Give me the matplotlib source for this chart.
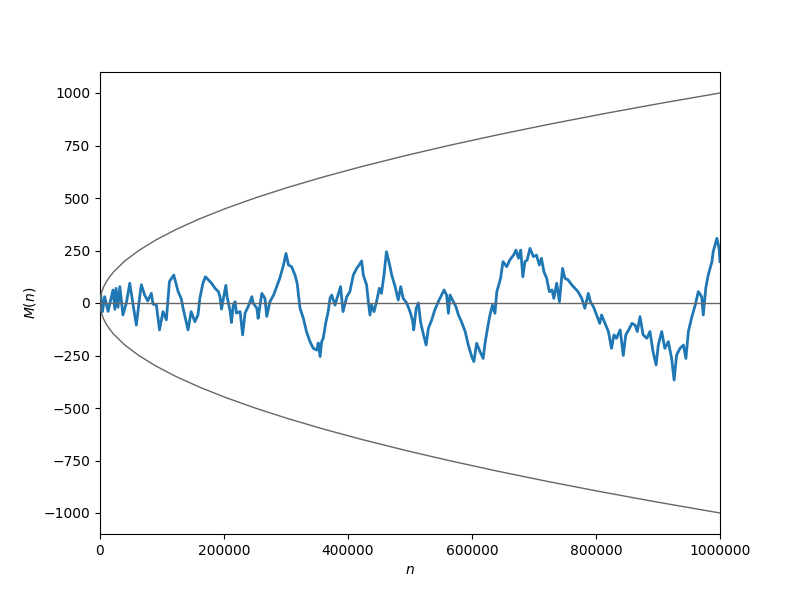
import matplotlib
matplotlib.use("Agg")
import matplotlib.pyplot as plt

# Mertens function M(n) (n in thousands)
n_k = [0, 1, 4, 7.5, 13, 21, 24, 26, 29, 32, 37, 42.5, 48, 50.5, 54, 58.6, 64, 66.7, 72, 77,
       82.8, 85.5, 91, 96, 101.6, 107, 112, 119, 126, 131, 134, 142, 147, 153, 158, 161, 166, 170,
       180, 185.5, 191, 193.5, 196, 199, 203, 205, 210, 212, 215, 218, 220, 226, 230, 234, 239,
       245, 247, 253, 255, 261, 266, 269, 274, 280, 285, 290, 296, 300, 304, 309, 314.5, 318,
       322.6, 328, 333, 338.7, 344, 349.5, 352, 355, 357.5, 360, 364.5, 368, 371, 373.7, 379,
       384, 388, 392, 398, 403, 408.6, 414, 418, 422, 424.7, 430, 433, 435.5, 438, 442, 446,
       450.5, 454, 458, 462, 466.6, 470.5, 476, 481, 485, 489, 494.7, 500, 504, 506, 510, 513.5,
       517, 520.5, 526, 529.6, 535, 540, 545.6, 551, 555, 559, 562, 564.5, 570, 574, 578, 583,
       589, 594, 599.5, 603, 607.5, 613, 618, 621, 625, 629, 633, 637, 640, 644, 646, 650, 656,
       661, 667, 671, 675, 678.6, 682, 685.5, 689, 693.5, 699, 704, 708.6, 712, 716, 720.5,
       724.7, 729, 732, 736.6, 741, 746, 750, 755, 761, 766, 771, 777, 782, 787.6, 791, 795.7,
       801, 806, 809, 814.5, 820, 825, 829, 833, 839, 844, 848, 854, 858, 863, 866.6, 871, 876,
       882, 887, 892, 897, 900.5, 906, 911, 916.6, 922, 926, 930, 935.5, 941, 945, 949, 954,
       960, 965, 970.5, 973, 977, 981, 987, 989, 995, 998.5, 1000]
M_vals = [0, 46, -41, 30, -40, 62, -30, 70, -20, 78, -57, 0, 94, 46, -20, -105, 29, 87, 38, 10,
          46, -5, -10, -128, -41, -80, 102, 133, 54, 21, -25, -128, -41, -89, -57, 21, 94, 125,
          94, 70, 54, 30, -29, 21, 84, 30, -41, -93, -10, 6, -48, -41, -152, -48, -17,
          30, 0, -25, -73, 46, 22, -64, 6, 38, 78, 118, 181, 236, 181, 173, 133, 94,
          -25, -73, -136, -184, -216, -224, -190, -255, -184, -168, -89, -41, 22, 38, -10,
          38, 78, -41, 30, 54, 133, 165, 181, 200, 133, 86, 0, -57, -10, -41, 6,
          70, 46, 133, 244, 189, 133, 78, 14, 78, 22, 0, -41, -81, -128, -25, 0,
          -89, -136, -200, -121, -81, -33, 6, 38, 62, 38, -49, 38, 6, -17, -57, -89,
          -136, -200, -255, -279, -192, -232, -264, -192, -121, -57, -10, -49, 54, 94, 117, 197, 173,
          205, 228, 252, 213, 252, 125, 197, 205, 260, 221, 228, 181, 213, 149, 117,
          54, 62, 22, 94, 6, 165, 117, 110, 86, 70, 54, 22, -25, 46, 6, -17,
          -57, -97, -57, -97, -136, -216, -152, -168, -128, -250, -152, -121, -97, -105, -136, -65, -152,
          -168, -136, -232, -295, -200, -136, -216, -184, -264, -367, -248, -216, -200, -264, -136, -73,
          -10, 54, 30, -57, 70, 133, 197, 244, 308, 260, 197]

# sqrt(n) envelope (n in thousands)
env_n_k = [0, 0.1, 0.4, 0.9, 1.6, 2.5, 5.625, 10, 15.625, 22.5, 40, 62.5, 90, 122.5, 160,
           202.5, 250, 302.5, 360, 422.5, 490, 562.5, 640, 722.5, 810, 902.5, 1000]
env_vals = [0, 10, 20, 30, 40, 50, 75, 100, 125, 150, 200, 250, 300, 350, 400,
            450, 500, 550, 600, 650, 700, 750, 800, 850, 900, 950, 1000]

x_ticks = [0, 200000, 400000, 600000, 800000, 1000000]
y_ticks = [-1000, -750, -500, -250, 0, 250, 500, 750, 1000]

n = [v * 1000 for v in n_k]
env_n = [v * 1000 for v in env_n_k]

fig, ax = plt.subplots(figsize=(8, 6), dpi=100)
ax.plot(n, M_vals, color="#1f77b4", lw=2.0, zorder=2)
gray = "#666666"
ax.plot(env_n, env_vals, color=gray, lw=1.0, zorder=3)
ax.plot(env_n, [-v for v in env_vals], color=gray, lw=1.0, zorder=3)
ax.plot([0, 1000000], [0, 0], color=gray, lw=1.0, zorder=3)

ax.set_xlim(0, 1000000)
ax.set_ylim(-1100, 1100)
ax.set_xticks(x_ticks)
ax.set_yticks(y_ticks)
ax.ticklabel_format(style="plain", useOffset=False)
ax.set_xlabel("$n$")
ax.set_ylabel("$M(n)$")

fig.savefig("out.png", dpi=100)
